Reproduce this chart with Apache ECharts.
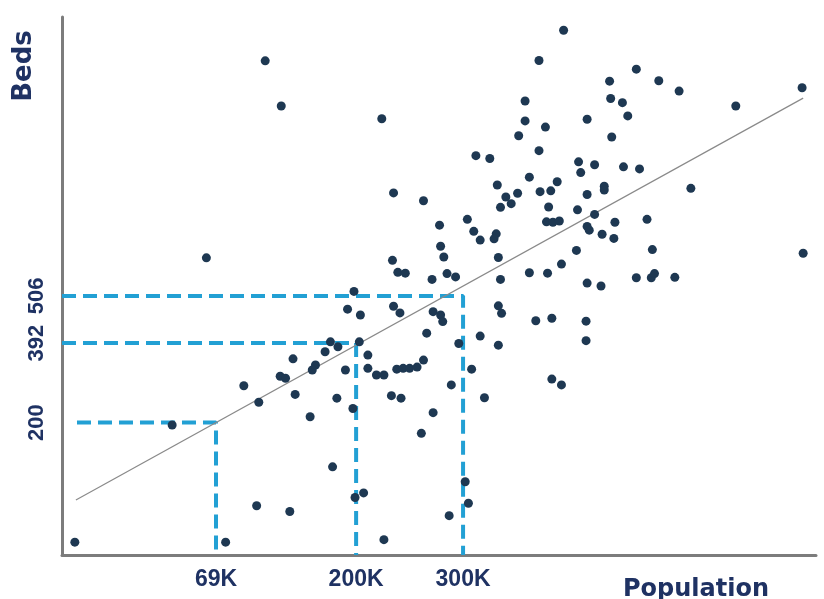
<!DOCTYPE html>
<html>
<head>
<meta charset="utf-8">
<script src="https://cdn.jsdelivr.net/npm/echarts@6/dist/echarts.min.js"></script>
<style>
html,body{margin:0;padding:0;background:#fff;}
#chart{width:824px;height:599px;}
</style>
</head>
<body>
<div id="chart"></div>
<script>
// Population (thousands) of each hospital area
const populationK = [-63,28,60,78,95,107,109,115,129,134,130,138,141,143,157,162,159,171,176,178,182,183,190,192,197,198,199,203,204,207,211,211,219,224,226,226,233,234,235,235,238,239,241,242,244,246,250,257,261,263,263,266,271,272,272,278,279,279,281,282,285,287,289,293,296,302,304,305,308,310,312,316,316,320,325,331,329,332,333,333,333,335,335,336,340,345,351,352,358,358,362,362,368,371,371,372,377,378,379,380,382,383,383,384,388,390,392,392,394,406,407,408,410,415,415,416,416,416,416,418,423,423,429,430,432,432,437,438,439,441,442,449,450,454,462,462,465,472,477,476,479,483,498,502,513,555,617,618];
// Beds
const beds = [-89,194,598,-89,289,-1,249,1074,312,307,965,-15,354,268,214,339,327,371,395,93,259,383,327,474,234,517,19,395,460,30,363,331,315,934,315,-83,265,592,755,481,329,563,465,259,331,561,331,334,174,736,351,416,546,468,224,677,460,626,444,600,560,-25,291,552,391,57,691,5,329,662,845,409,641,260,838,656,644,774,599,482,387,720,546,464,745,729,754,893,977,929,793,562,446,1075,857,758,914,685,561,721,760,452,305,684,782,687,583,291,1148,616,714,830,804,445,398,933,751,537,674,665,823,703,530,655,771,762,1025,983,890,645,684,973,818,941,1054,550,813,691,618,550,560,1026,551,1001,766,965,1009,609];

// trend line end points
const trendX = [-62, 618];
const trendY = [13, 984];

// guide lines (x tick, y tick, start of horizontal dash)
const guideX = [69, 200, 300];
const guideY = [200, 392, 506];
const guideStartX = [-61, -75, -75];

const xTicks = [69, 200, 300];
const yTicks = [200, 392, 506];

const X_MIN = -75, X_MAX = 630, Y_MIN = -120, Y_MAX = 1180;

const navy = '#1f3263';
const dotColor = '#1e3852';
const guideColor = '#22a0d4';

const points = populationK.map((x, i) => [x, beds[i]]);

const guideSeries = guideX.map((gx, i) => ({
  type: 'line',
  data: [[guideStartX[i], guideY[i]], [gx, guideY[i]], [gx, Y_MIN]],
  symbol: 'none',
  silent: true,
  z: 1,
  lineStyle: { color: guideColor, width: 4, type: [14, 7] }
}));

const chart = echarts.init(document.getElementById('chart'), null, { renderer: 'canvas' });
chart.setOption({
  animation: false,
  backgroundColor: '#fff',
  grid: { left: 62, right: 8, top: 17, bottom: 44, containLabel: false },
  xAxis: {
    type: 'value', min: X_MIN, max: X_MAX,
    splitLine: { show: false },
    axisTick: { show: false },
    axisLine: { show: true, onZero: false, lineStyle: { color: '#7c7c7c', width: 3 } },
    axisLabel: {
      customValues: xTicks,
      formatter: v => v + 'K',
      margin: 13,
      color: navy,
      fontFamily: 'Liberation Sans, Arial, sans-serif',
      fontWeight: 'bold',
      fontSize: 23
    }
  },
  yAxis: {
    type: 'value', min: Y_MIN, max: Y_MAX,
    splitLine: { show: false },
    axisTick: { show: false },
    axisLine: { show: true, onZero: false, lineStyle: { color: '#7c7c7c', width: 3 } },
    axisLabel: {
      customValues: yTicks,
      rotate: 90,
      margin: 14,
      color: navy,
      fontFamily: 'Liberation Sans, Arial, sans-serif',
      fontWeight: 'bold',
      fontSize: 22
    }
  },
  graphic: [
    {
      type: 'text', x: 24, y: 66, rotation: Math.PI / 2,
      style: { text: 'Beds', fill: navy, font: 'bold 26px "DejaVu Sans", sans-serif', align: 'center', verticalAlign: 'middle' }
    },
    {
      type: 'text', x: 696, y: 590,
      style: { text: 'Population', fill: navy, font: 'bold 24px "DejaVu Sans", sans-serif', align: 'center', verticalAlign: 'middle' }
    }
  ],
  series: [
    ...guideSeries,
    {
      type: 'line',
      data: trendX.map((x, i) => [x, trendY[i]]),
      symbol: 'none',
      silent: true,
      z: 2,
      lineStyle: { color: '#8a8a8a', width: 1.2 }
    },
    {
      type: 'scatter',
      data: points,
      symbolSize: 9,
      z: 3,
      itemStyle: { color: dotColor, opacity: 1 }
    }
  ]
});
</script>
</body>
</html>
